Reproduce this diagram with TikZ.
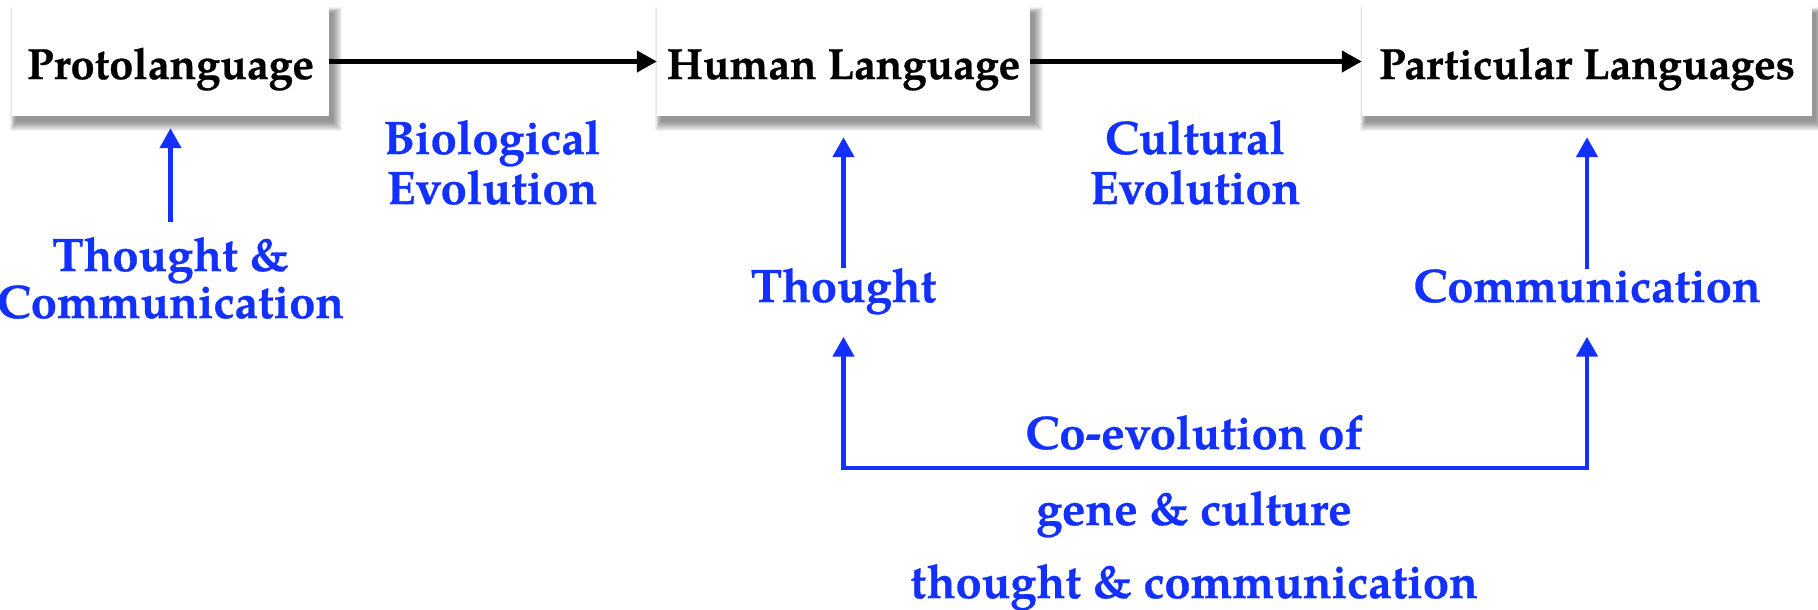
\documentclass[tikz,border=0pt]{standalone}
\usepackage{fontspec}
\setmainfont{texgyrepagella}[Extension=.otf, UprightFont=*-regular, BoldFont=*-bold,
  ItalicFont=*-italic, BoldItalicFont=*-bolditalic, BoldFeatures={FakeBold=0.6}]
\usetikzlibrary{arrows.meta,calc,backgrounds}
\definecolor{evoblue}{RGB}{18,48,255}

\tikzset{
  box/.style={fill=white, minimum height=109pt, text height=35pt, text depth=0pt,
    inner sep=0pt, font=\fontsize{43.5}{50}\selectfont\bfseries},
  lbl/.style={text=evoblue, anchor=base, inner sep=0pt,
    font=\fontsize{47}{54}\selectfont\bfseries},
  flow/.style={line width=4.5pt, -{Triangle[length=20pt,width=21pt]}},
  feed/.style={evoblue, line width=4.5pt, -{Triangle[length=20pt,width=21pt]}},
  bracket/.style={evoblue, line width=4.5pt,
    {Triangle[length=20pt,width=21pt]}-{Triangle[length=20pt,width=21pt]}},
}

\begin{document}
\begin{tikzpicture}[x=1pt,y=-1pt]
\useasboundingbox (0,0) rectangle (1818,610);

% stages
\node[box, minimum width=317pt] (proto) at (170.5,61.5) {Protolanguage};
\node[box, minimum width=373pt] (human) at (843.5,61.5) {Human Language};
\node[box, minimum width=450pt] (part)  at (1587,61.5)  {Particular Languages};

% soft drop shadows behind the stage boxes
\begin{scope}[on background layer]
  \foreach \n in {proto,human,part}{
    \foreach \s in {0,...,9}{
      \fill[black, opacity=0.05]
        ($(\n.north west)+(4-0.6*\s,6-0.6*\s)$) rectangle ($(\n.south east)+(4+\s,6+\s)$);
    }
  }
\end{scope}

% labels
\node[lbl] (bio1) at (492,154) {Biological};
\node[lbl] (bio2) at (492,204) {Evolution};
\node[lbl] (cul1) at (1195,154) {Cultural};
\node[lbl] (cul2) at (1195,204) {Evolution};
\node[lbl] (tc1) at (170.5,271) {Thought \&};
\node[lbl] (tc2) at (170.5,318) {Communication};
\node[lbl] (th)  at (843.5,302) {Thought};
\node[lbl] (cm)  at (1587,302) {Communication};
\node[lbl] (co1) at (1194,449) {Co-evolution of};
\node[lbl] (co2) at (1194,525) {gene \& culture};
\node[lbl] (co3) at (1194,598) {thought \& communication};

% main sequence
\draw[flow] (proto) -- (human);
\draw[flow] (human) -- (part);

% influences
\draw[feed] ([yshift=15pt]tc1.north) -- ([yshift=-12pt]proto.south);
\draw[feed] (th.north) -- ([yshift=-21pt]human.south);
\draw[feed] (cm.north) -- ([yshift=-21pt]part.south);

% co-evolution bracket
\coordinate (thtip) at ([yshift=-22pt]th.south);
\coordinate (cmtip) at (cm.south |- thtip);
\coordinate (cl) at (843.5,468);
\coordinate (cr) at (1587,468);
\draw[bracket] (thtip) -- (cl) -- (cr) -- (cmtip);
\end{tikzpicture}
\end{document}
